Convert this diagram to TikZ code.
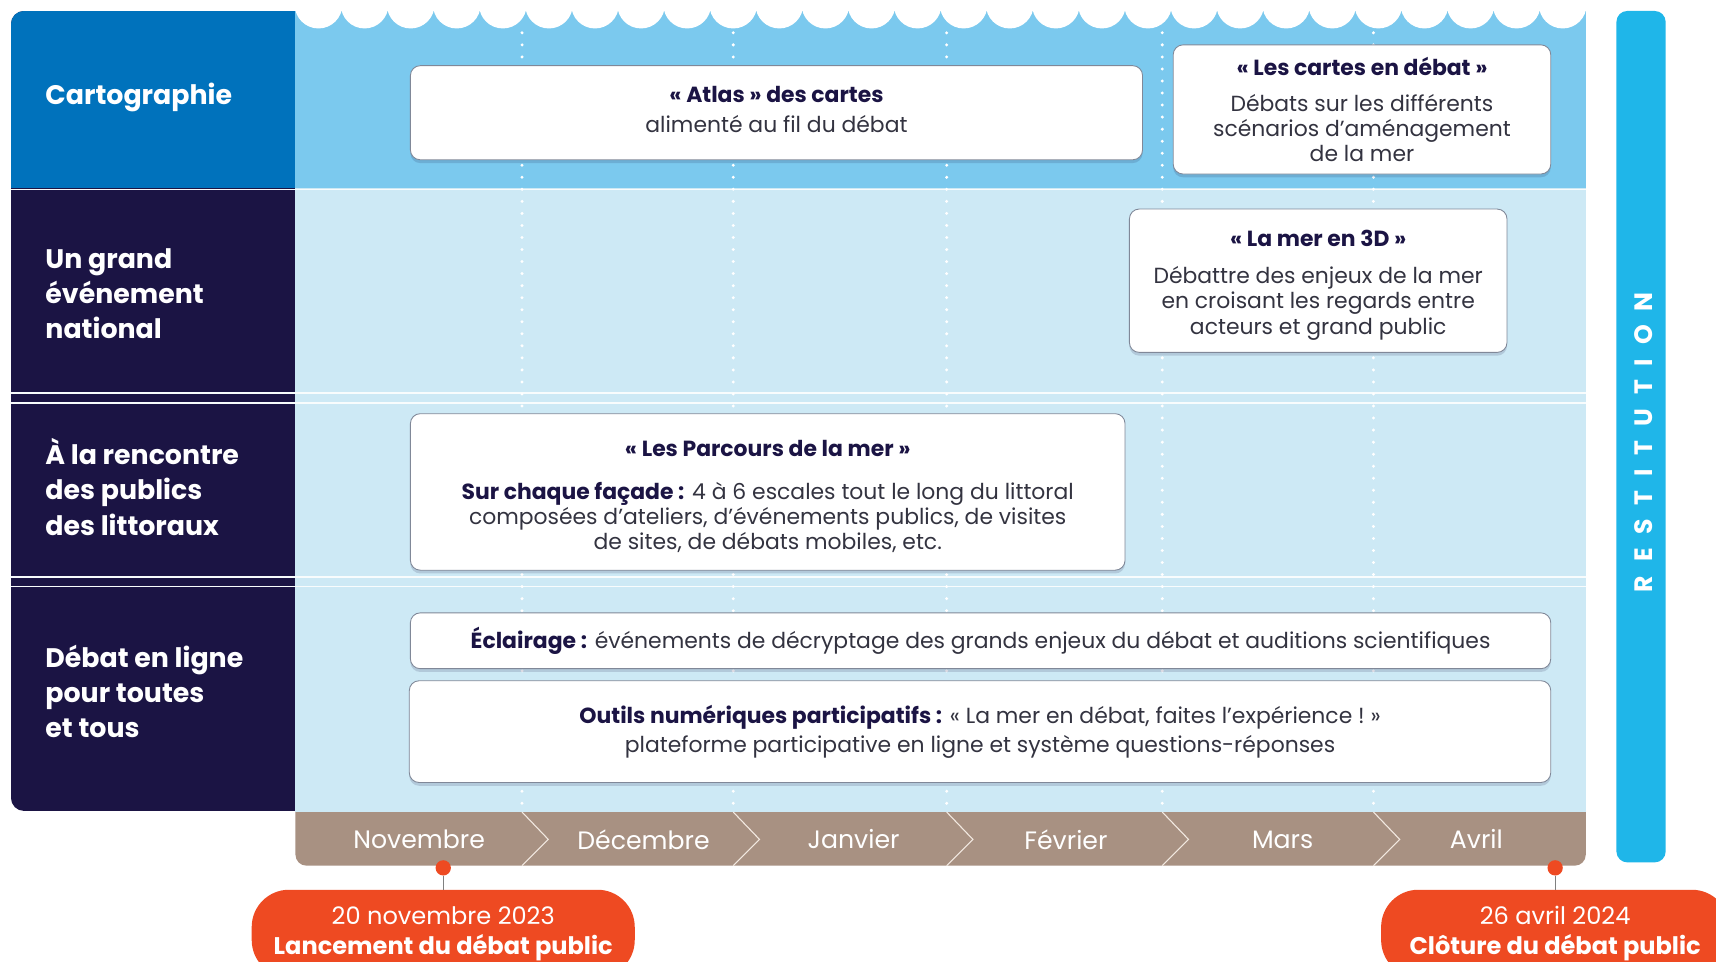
\documentclass[tikz,border=0pt]{standalone}
\usepackage{fontspec}
\setmainfont{Poppins}
\usetikzlibrary{shadows}

\definecolor{cartoblue}{HTML}{0072BC}
\definecolor{navy}{HTML}{1B1444}
\definecolor{seatop}{HTML}{7BC9EE}
\definecolor{sealight}{HTML}{CDE9F5}
\definecolor{restit}{HTML}{1FB6E9}
\definecolor{monthbar}{HTML}{A89182}
\definecolor{monthline}{HTML}{F2E9E1}
\definecolor{datered}{HTML}{EE4A22}
\definecolor{boxline}{HTML}{808898}
\definecolor{bodytext}{HTML}{333340}

\newcommand{\evtitle}[1]{{\bfseries\color{navy}#1}}

\tikzset{
  rowlabel/.style={anchor=west, align=left, text=white,
    font=\fontsize{24.5}{32}\selectfont\bfseries},
  eventbox/.style={draw=boxline, line width=0.8pt, fill=white,
    rounded corners=9pt, align=center, inner sep=0pt, text=bodytext,
    font=\fontsize{20}{23}\selectfont,
    drop shadow={shadow xshift=0pt, shadow yshift=-3pt, opacity=0.15, fill=navy}},
  month/.style={text=white, font=\fontsize{23}{26}\selectfont},
  datepill/.style={fill=datered, rounded corners=34pt, text=white,
    align=center, font=\fontsize{22}{27}\selectfont, minimum height=80pt},
  datedot/.style={circle, fill=datered, inner sep=0pt, minimum size=14pt}
}

\begin{document}
\begin{tikzpicture}[x=1pt, y=-1pt]
  \useasboundingbox (0,0) rectangle (1568,879);
  \clip (0,0) rectangle (1568,879);

  % label column
  \begin{scope}
    \clip[rounded corners=12pt] (10,10) rectangle (300,741);
    \fill[navy] (10,10) rectangle (270,741);
    \fill[cartoblue] (10,10) rectangle (270,172);
  \end{scope}

  % sea area with waves
  \fill[seatop] (270,10) rectangle (1449,172);
  \fill[sealight] (270,172) rectangle (1449,742);
  \begin{scope}
    \clip (270,0) rectangle (1449,172);
    \foreach \i in {0,...,27}
      \fill[white] ({291.05+42.107*\i},4.2) circle (21.8pt);
  \end{scope}

  % row separators
  \foreach \y in {173,359,368,527,536}
    \draw[white!85!sealight, line width=1.5pt] (10,\y) -- (1449,\y);

  % dotted month limits
  \foreach \x in {477,670,865,1062,1255}
    \draw[white, line width=3pt, line cap=round, dash pattern=on 0pt off 11pt]
      (\x,30) -- (\x,742);

  % month bar
  \begin{scope}
    \clip[rounded corners=10pt] (270,700) rectangle (1449,791);
    \fill[monthbar] (270,742) rectangle (1449,791);
  \end{scope}
  \foreach \x in {477,670,865,1062,1255}
    \draw[monthline, line width=1pt] (\x,742) -- (\x+24,767) -- (\x,791);
  \foreach \name/\x/\lbl in {nov/383/Novembre, dec/588/Décembre, jan/780/Janvier,
      feb/974/Février, mar/1172/Mars, apr/1349/Avril}
    \node[month] (\name) at (\x,767) {\lbl};

  % restitution
  \fill[restit, rounded corners=10pt] (1477,10) rectangle (1522,788);
  \node[rotate=90, text=white, font=\fontsize{23}{28}\selectfont\bfseries\addfontfeature{LetterSpace=55}]
    (restitution) at (1502,404) {RESTITUTION};

  % labels
  \node[rowlabel] (carto) at (38,89) {Cartographie};
  \node[rowlabel] (event) at (38,268) {Un grand\\événement\\national};
  \node[rowlabel] (meet) at (38,445) {À la rencontre\\des publics\\des littoraux};
  \node[rowlabel] (online) at (38,632) {Débat en ligne\\pour toutes\\et tous};

  % boxes
  \node[eventbox, minimum width=669pt, minimum height=86pt] (atlas) at (709.5,103)
    {\evtitle{«~Atlas~» des cartes}\\[5pt]alimenté au fil du débat\\[-17pt]\mbox{}};
  \node[eventbox, minimum width=345pt, minimum height=118pt] (maps) at (1244.5,100)
    {\evtitle{«~Les cartes en débat~»}\\[10pt]Débats sur les différents\\
     scénarios d’aménagement\\de la mer};
  \node[eventbox, minimum width=345pt, minimum height=131pt] (sea3d) at (1204.5,256.5)
    {\rule{0pt}{23pt}\evtitle{«~La mer en 3D~»}\\[11pt]Débattre des enjeux de la mer\\
     en croisant les regards entre\\acteurs et grand public};
  \node[eventbox, minimum width=653pt, minimum height=143pt] (parcours) at (701.5,449.5)
    {\rule{0pt}{23pt}\evtitle{«~Les Parcours de la mer~»}\\[16pt]
     \evtitle{Sur chaque façade :} 4 à 6 escales tout le long du littoral\\
     composées d’ateliers, d’événements publics, de visites\\
     de sites, de débats mobiles, etc.};
  \node[eventbox, minimum width=1042pt, minimum height=51pt] (eclairage) at (896,585.5)
    {\evtitle{Éclairage :} événements de décryptage des grands enjeux du débat et auditions scientifiques};
  \node[eventbox, minimum width=1043pt, minimum height=93pt] (outils) at (895.5,668.5)
    {\evtitle{Outils numériques participatifs :} «~La mer en débat, faites l'expérience~!~»\\[3pt]
     plateforme participative en ligne et système questions-réponses};

  % dates
  \node[datedot] (startdot) at (405,793) {};
  \node[datepill, minimum width=350pt] (start) at (405,853)
    {20 novembre 2023\\\textbf{Lancement du débat public}};
  \draw[gray, line width=1pt] (startdot) -- (start);
  \node[datedot] (closedot) at (1421,793) {};
  \node[datepill, minimum width=318pt] (close) at (1421,853)
    {26 avril 2024\\\textbf{Clôture du débat public}};
  \draw[gray, line width=1pt] (closedot) -- (close);
\end{tikzpicture}
\end{document}
